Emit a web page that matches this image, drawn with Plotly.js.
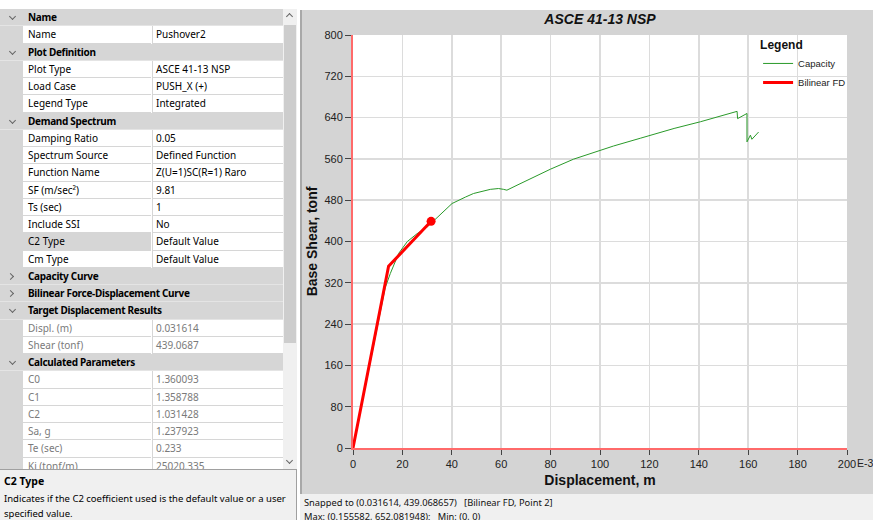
<!DOCTYPE html>
<html>
<head>
<meta charset="utf-8">
<script src="https://cdn.plot.ly/plotly-3.0.1.min.js"></script>
<style>
html,body{margin:0;padding:0;background:#fff;width:873px;height:520px;overflow:hidden;}
#grid{position:absolute;left:0;top:9px;width:283px;height:460px;overflow:hidden;font-family:"Noto Sans",sans-serif;font-size:10px;color:#000;}
.row{position:absolute;left:0;width:283px;height:17.25px;box-sizing:border-box;}
.hdr{background:#d6d6d6;font-weight:bold;letter-spacing:-0.3px;}
.gut{position:absolute;left:0;top:0;width:23px;height:100%;background:#d6d6d6;}
.lab{position:absolute;left:23px;top:0;width:128px;height:100%;background:#fff;border-bottom:1px solid #d6d6d6;box-sizing:border-box;}
.val{position:absolute;left:152px;top:0;width:131px;height:100%;background:#fff;border-bottom:1px solid #d6d6d6;border-left:1px solid #d6d6d6;box-sizing:border-box;}
.txt{position:absolute;left:5px;top:0;line-height:16px;white-space:nowrap;}
.htxt{position:absolute;left:28px;top:0;line-height:17px;white-space:nowrap;}
.chev{position:absolute;left:10px;top:5px;width:4px;height:4px;border-right:1px solid #666;border-bottom:1px solid #666;}
#sb{position:absolute;left:283px;top:9px;width:14px;height:460px;background:#f0f0f0;}
#thumb{position:absolute;left:1px;top:16px;width:12px;height:318px;background:#cdcdcd;}
#desc{position:absolute;left:0;top:469px;width:296px;height:51px;background:#f0f0f0;border-top:1px solid #a0a0a0;border-right:1px solid #a0a0a0;font-family:"Noto Sans",sans-serif;font-size:9.5px;}
#chartwrap{position:absolute;left:300px;top:10px;width:573px;height:484px;border-left:2px solid #a8a8a8;box-sizing:border-box;}
#chart{position:absolute;left:0;top:0;}
#e3{position:absolute;left:857px;top:457px;font-family:"Liberation Sans",Arial,sans-serif;font-size:10.5px;color:#222;white-space:nowrap;}
#status{position:absolute;left:300px;top:494px;width:573px;height:26px;background:#f0f0f0;font-family:"Noto Sans",sans-serif;font-size:9.3px;color:#111;}
</style>
</head>
<body>
<div id="grid"></div>
<div id="sb"><div id="thumb"></div>
<div style="position:absolute;left:4px;top:5px;width:4px;height:4px;border-left:1px solid #666;border-top:1px solid #666;transform:rotate(45deg);"></div>
<div style="position:absolute;left:4px;top:449px;width:4px;height:4px;border-right:1px solid #666;border-bottom:1px solid #666;transform:rotate(45deg);"></div>
</div>
<div id="desc">
<div style="position:absolute;left:4px;top:4px;font-weight:bold;font-size:10.5px;">C2 Type</div>
<div style="position:absolute;left:4px;top:21px;line-height:15px;width:290px;">Indicates if the C2 coefficient used is the default value or a user specified value.</div>
</div>
<div id="chartwrap"><div id="chart"></div></div>
<div id="e3">E-3</div>
<div id="status">
<div style="position:absolute;left:4px;top:2px;white-space:pre;">Snapped to (0.031614, 439.068657)   [Bilinear FD, Point 2]</div>
<div style="position:absolute;left:4px;top:16px;white-space:pre;">Max: (0.155582, 652.081948);   Min: (0, 0)</div>
</div>
<script>
// ---- property grid text ----
const gridKinds  = ["h","r","h","r","r","r","h","r","r","r","r","r","r","s","r","c","c","h","g","g","h","g","g","g","g","g","g"];
const gridLabels = ["Name","Name","Plot Definition","Plot Type","Load Case","Legend Type","Demand Spectrum","Damping Ratio","Spectrum Source","Function Name","SF (m/sec\u00b2)","Ts (sec)","Include SSI","C2 Type","Cm Type","Capacity Curve","Bilinear Force-Displacement Curve","Target Displacement Results","Displ. (m)","Shear (tonf)","Calculated Parameters","C0","C1","C2","Sa, g","Te (sec)","Ki (tonf/m)"];
const gridValues = ["","Pushover2","","ASCE 41-13 NSP","PUSH_X (+)","Integrated","","0.05","Defined Function","Z(U=1)SC(R=1) Raro","9.81","1","No","Default Value","Default Value","","","","0.031614","439.0687","","1.360093","1.358788","1.031428","1.237923","0.233","25020.335"];

// ---- chart data ----
const capacityX = [0, 11.7, 13, 15.1, 18.5, 22, 25.9, 30, 33, 36, 40.1, 45.5, 48.8, 55.6, 58.9, 61, 62.3, 66.4, 71.8, 79.9, 89.3, 99.8, 105.5, 116.3, 120.4, 130, 140.7, 150, 155.5, 155.7, 159.5, 159.5, 160.9, 161.5, 164.2];
const capacityY = [0, 280, 310, 338, 377, 400, 415, 428, 441, 455, 473.6, 486, 493, 501, 502.6, 501, 499.4, 509, 522, 540, 559.5, 575.6, 585, 600, 606, 619, 632, 645, 652.1, 638, 648, 593, 606, 598, 612];
const bilinearX = [0, 14.4, 31.614];
const bilinearY = [0, 352, 439.0687];
const targetX = [31.614];
const targetY = [439.0687];
const xTickVals = [0, 20, 40, 60, 80, 100, 120, 140, 160, 180, 200];
const yTickVals = [0, 80, 160, 240, 320, 400, 480, 560, 640, 720, 800];

// build grid
const g = document.getElementById('grid');
const RH = 17.25;
gridKinds.forEach((k, i) => {
  const r = document.createElement('div');
  r.className = 'row' + ((k === 'h' || k === 'c') ? ' hdr' : '');
  r.style.top = (i * RH) + 'px';
  if (k === 'h' || k === 'c') {
    const ch = document.createElement('div');
    ch.className = 'chev';
    ch.style.transform = k === 'h' ? 'rotate(45deg)' : 'rotate(-45deg)';
    if (k === 'c') { ch.style.left = '8px'; ch.style.top = '6px'; }
    r.appendChild(ch);
    const t = document.createElement('div');
    t.className = 'htxt'; t.textContent = gridLabels[i];
    r.appendChild(t);
    r.style.borderBottom = '1px solid #e4e4e4';
  } else {
    const gu = document.createElement('div'); gu.className = 'gut'; r.appendChild(gu);
    const l = document.createElement('div'); l.className = 'lab';
    if (k === 's') l.style.background = '#d6d6d6';
    const lt = document.createElement('div'); lt.className = 'txt'; lt.textContent = gridLabels[i];
    l.appendChild(lt); r.appendChild(l);
    const v = document.createElement('div'); v.className = 'val';
    const vt = document.createElement('div'); vt.className = 'txt'; vt.style.left = '3px'; vt.textContent = gridValues[i];
    v.appendChild(vt); r.appendChild(v);
    if (k === 'g') { lt.style.color = '#7a7a7a'; vt.style.color = '#7a7a7a'; }
  }
  g.appendChild(r);
});

// chart
const traces = [
  {x: capacityX, y: capacityY, type: 'scatter', mode: 'lines', name: 'Capacity',
   line: {color: '#2a9a2a', width: 1}},
  {x: bilinearX, y: bilinearY, type: 'scatter', mode: 'lines', name: 'Bilinear FD',
   line: {color: '#ff0000', width: 3}},
  {x: targetX, y: targetY, type: 'scatter', mode: 'markers', showlegend: false,
   marker: {color: '#ff0000', size: 9}}
];
const fnt = 'Liberation Sans, Arial, sans-serif';
const layout = {
  width: 571, height: 484,
  margin: {l: 51, r: 26, t: 25, b: 46},
  paper_bgcolor: '#d4d4d4', plot_bgcolor: '#ffffff',
  font: {family: fnt, size: 11, color: '#222'},
  title: {text: '<b><i>ASCE 41-13 NSP</i></b>', font: {family: fnt, size: 14, color: '#111'},
          xref: 'paper', x: 0.5, xanchor: 'center', yref: 'container', y: 0.981, yanchor: 'middle'},
  xaxis: {range: [0, 200], tickvals: xTickVals, ticktext: xTickVals.map(String),
          showgrid: true, gridcolor: '#dcdcdc', gridwidth: 1.5, zeroline: false,
          showline: true, linecolor: '#ff6a6a', linewidth: 2,
          ticks: 'outside', ticklen: 5, tickcolor: '#444', tickwidth: 1,
          tickfont: {family: fnt, size: 11, color: '#222'},
          title: {text: '<b>Displacement, m</b>', font: {family: fnt, size: 14, color: '#111'}, standoff: 6}},
  yaxis: {range: [0, 800], tickvals: yTickVals, ticktext: yTickVals.map(String),
          showgrid: true, gridcolor: '#dcdcdc', gridwidth: 1.5, zeroline: false,
          showline: true, linecolor: '#ff6a6a', linewidth: 2,
          ticks: 'outside', ticklen: 6, tickcolor: '#444', tickwidth: 1,
          tickfont: {family: fnt, size: 11, color: '#222'},
          title: {text: '<b>Base Shear, tonf</b>', font: {family: fnt, size: 14, color: '#111'}, standoff: 4}},
  legend: {x: 0.82, y: 1.004, xanchor: 'left', yanchor: 'top', bgcolor: 'rgba(0,0,0,0)',
           title: {text: '<b>Legend</b>', font: {family: fnt, size: 12, color: '#111'}},
           font: {family: fnt, size: 9.5, color: '#222'}, itemwidth: 30, tracegroupgap: 0}
};
Plotly.newPlot('chart', traces, layout, {displayModeBar: false, staticPlot: true});
</script>
</body>
</html>
